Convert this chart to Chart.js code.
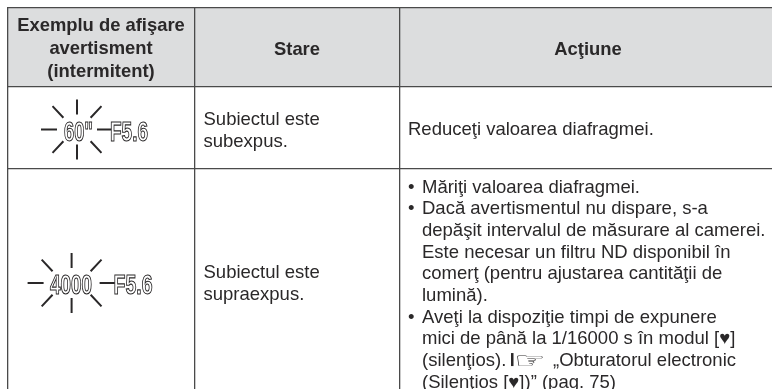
<!DOCTYPE html>
<html>
<head>
<meta charset="utf-8">
<title>Avertisment expunere</title>
<script src="https://cdn.jsdelivr.net/npm/chart.js@4"></script>
<style>
html, body { margin: 0; padding: 0; background: #fff; }
canvas { display: block; }
</style>
</head>
<body>
<canvas id="table-chart" width="772" height="389"></canvas>
<script>
const headerExample = ["Exemplu de afişare", "avertisment", "(intermitent)"];
const headerState = ["Stare"];
const headerAction = ["Acţiune"];
const stateUnder = ["Subiectul este", "subexpus."];
const stateOver = ["Subiectul este", "supraexpus."];
const actionUnder = ["Reduceţi valoarea diafragmei."];
const actionOver = [
    "• Măriţi valoarea diafragmei.",
    "• Dacă avertismentul nu dispare, s-a",
    "depăşit intervalul de măsurare al camerei.",
    "Este necesar un filtru ND disponibil în",
    "comerţ (pentru ajustarea cantităţii de",
    "lumină).",
    "• Aveţi la dispoziţie timpi de expunere",
    "mici de până la 1/16000 s în modul [♥]",
    "(silenţios). ☞ „Obturatorul electronic",
    "(Silenţios [♥])” (pag. 75)"
];
const displayUnder = ["60\"", "F5.6"];
const displayOver = ["4000", "F5.6"];

const columnEdges = [7.5, 195, 399.5];
const rowEdges = [7.5, 87, 168.5];

// directions of the blinking rays
const rayDirs = [[1, 0], [-1, 0], [0, 1], [0, -1], [.68, .78], [-.68, .78], [.68, -.78], [-.68, -.78]];

const burst = function(cx, cy, inX, inY, outX, outY){
    let pts = [];
    rayDirs.forEach(function(d){
        pts.push({x: cx + d[0] * inX, y: cy + d[1] * inY});
        pts.push({x: cx + d[0] * outX, y: cy + d[1] * outY});
        pts.push({x: cx, y: null});
    });
    return pts;
};

const ink = '#2a2829';
const sans = "'Liberation Sans', Arial, sans-serif";

// the hand icon is wider than the text, the rest of the line goes after it
const drawIconLine = function(ctx, line, px, py){
    const parts = line.split('☞');
    const font = ctx.font;
    ctx.fillText(parts[0].trim(), px, py);
    ctx.fillRect(px + 89, py - 13, 2.5, 13);
    ctx.save();
    ctx.translate(px + 92, py + 2);
    ctx.scale(1.6, 1);
    ctx.font = "22px 'DejaVu Sans'";
    ctx.fillText('☞', 0, 0);
    ctx.restore();
    ctx.font = font;
    ctx.fillText(parts[1].trim(), px + 131, py);
};

// draw a text block in data coordinates, so it follows the scales
const drawLines = function(chart, lines, x, y, lineH, align, font){
    const ctx = chart.ctx;
    ctx.font = font;
    ctx.fillStyle = ink;
    ctx.textAlign = align;
    ctx.textBaseline = 'alphabetic';
    lines.forEach(function(line, i){
        let px = chart.scales.x.getPixelForValue(x);
        let py = chart.scales.y.getPixelForValue(y + i * lineH);
        if (line.indexOf('• ') === 0) {
            ctx.fillText('•', px, py);
            ctx.fillText(line.slice(2), px + 14, py);
        } else if (line.indexOf('☞') >= 0) {
            drawIconLine(ctx, line, px + 14, py);
        } else if (align === 'left' && lines.length > 1 && lines[0].indexOf('• ') === 0) {
            ctx.fillText(line, px + 14, py);
        } else {
            ctx.fillText(line, px, py);
        }
    });
};

const drawOutlined = function(chart, text, x, y, maxW){
    const ctx = chart.ctx;
    let px = chart.scales.x.getPixelForValue(x);
    let py = chart.scales.y.getPixelForValue(y);
    ctx.font = "bold 27px " + sans;
    ctx.textAlign = 'left';
    ctx.textBaseline = 'alphabetic';
    ctx.fillStyle = '#fff';
    ctx.strokeStyle = ink;
    ctx.lineWidth = 1.1;
    ctx.fillText(text, px, py, maxW);
    ctx.strokeText(text, px, py, maxW);
};

const tableText = {
    id: 'tableText',
    afterDraw: function(chart){
        const ctx = chart.ctx;
        ctx.save();
        const bold = "bold 18.4px " + sans;
        const body = "18.5px " + sans;
        drawLines(chart, headerExample, 101, 31, 22.8, 'center', bold);
        drawLines(chart, headerState, 297, 55, 0, 'center', bold);
        drawLines(chart, headerAction, 588, 55, 0, 'center', bold);
        drawLines(chart, stateUnder, 203.5, 125, 21.5, 'left', body);
        drawLines(chart, stateOver, 203.5, 278, 21.5, 'left', body);
        drawLines(chart, actionUnder, 408, 135, 0, 'left', body);
        drawLines(chart, actionOver, 408, 192.7, 21.67, 'left', body);
        drawOutlined(chart, displayUnder[0], 64, 140.5, 29);
        drawOutlined(chart, displayUnder[1], 110, 140.5, 38);
        drawOutlined(chart, displayOver[0], 50, 294, 42);
        drawOutlined(chart, displayOver[1], 113.5, 294, 39);
        ctx.restore();
    }
};

new Chart(document.getElementById('table-chart'), {
    type: 'scatter',
    data: {
        datasets: [
            {
                // header band
                data: [{x: 7, y: 87}, {x: 772, y: 87}],
                showLine: true,
                borderWidth: 0,
                pointRadius: 0,
                fill: {value: 7},
                backgroundColor: '#dcddde'
            },
            {
                data: burst(77, 129.5, 20, 15, 36, 30),
                showLine: true,
                spanGaps: false,
                borderColor: ink,
                borderWidth: 2,
                pointRadius: 0
            },
            {
                data: burst(71.6, 283, 28, 15, 44, 30),
                showLine: true,
                spanGaps: false,
                borderColor: ink,
                borderWidth: 2,
                pointRadius: 0
            }
        ]
    },
    options: {
        responsive: false,
        animation: false,
        layout: {padding: {left: 7, top: 7, right: 0, bottom: 0}},
        plugins: {legend: {display: false}, tooltip: {enabled: false}, title: {display: false}},
        scales: {
            x: {
                type: 'linear',
                min: 7,
                max: 772,
                afterBuildTicks: function(scale){
                    scale.ticks = columnEdges.map(function(v){ return {value: v}; });
                },
                ticks: {display: false},
                border: {display: false},
                grid: {color: '#4a4a4a', lineWidth: 1.3, drawTicks: false, z: 1}
            },
            y: {
                type: 'linear',
                reverse: true,
                min: 7,
                max: 389,
                afterBuildTicks: function(scale){
                    scale.ticks = rowEdges.map(function(v){ return {value: v}; });
                },
                ticks: {display: false},
                border: {display: false},
                grid: {color: '#4a4a4a', lineWidth: 1.3, drawTicks: false, z: 1}
            }
        }
    },
    plugins: [tableText]
});
</script>
</body>
</html>
